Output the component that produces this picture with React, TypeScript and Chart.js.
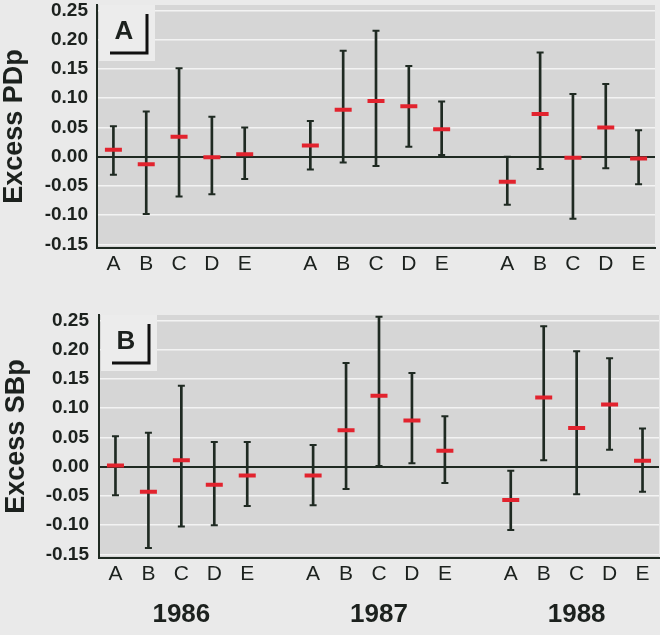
import React, { useEffect, useRef } from 'react';
import { Chart, registerables } from 'chart.js';

Chart.register(...registerables);

// ---- data ----
const years = ['1986', '1987', '1988'];
const sites = ['A', 'B', 'C', 'D', 'E'];

// Panel A: Excess PDp (15 values: 1986 A-E, 1987 A-E, 1988 A-E)
const pdpMean = [0.012, -0.013, 0.034, -0.001, 0.004, 0.019, 0.080, 0.095, 0.086, 0.047, -0.043, 0.073, -0.002, 0.050, -0.003];
const pdpUpper = [0.052, 0.077, 0.151, 0.068, 0.050, 0.061, 0.181, 0.215, 0.155, 0.094, 0.000, 0.178, 0.107, 0.124, 0.045];
const pdpLower = [-0.031, -0.098, -0.068, -0.064, -0.038, -0.022, -0.010, -0.016, 0.017, 0.003, -0.082, -0.021, -0.106, -0.020, -0.047];

// Panel B: Excess SBp
const sbpMean = [0.002, -0.043, 0.011, -0.031, -0.015, -0.015, 0.062, 0.121, 0.079, 0.027, -0.057, 0.118, 0.066, 0.106, 0.010];
const sbpUpper = [0.052, 0.058, 0.138, 0.042, 0.042, 0.037, 0.177, 0.256, 0.160, 0.086, -0.007, 0.240, 0.197, 0.185, 0.065];
const sbpLower = [-0.049, -0.139, -0.102, -0.100, -0.067, -0.066, -0.038, 0.001, 0.006, -0.028, -0.108, 0.011, -0.047, 0.029, -0.043];

const yMin = -0.156;
const yMax = 0.259;
const yStep = 0.05;

// ---- helpers: insert an empty slot between year groups ----
function slots<T>(vals: T[], gap: T): T[] {
  const out: T[] = [];
  years.forEach((_, g) => {
    if (g > 0) out.push(gap);
    sites.forEach((_, i) => out.push(vals[g * sites.length + i]));
  });
  return out;
}

const xLabels = slots(years.flatMap(() => sites), '');
const yearLabels = slots(
  years.flatMap((y) => sites.map((_, i) => (i === 2 ? y : ''))),
  ''
);

const FONT = '"Liberation Sans", Arial, sans-serif';
const INK = '#1c211e';
const BAR = '#1f2a22';
const PLOT_H = 243;

const decorPlugin = {
  id: 'panelDecor',
  beforeDraw(chart: any) {
    const { ctx, chartArea: a } = chart;
    ctx.save();
    ctx.fillStyle = '#d6d6d6';
    ctx.fillRect(a.left, a.top, a.right - a.left, a.bottom - a.top);
    ctx.restore();
  },
  beforeDatasetsDraw(chart: any, _args: any, opts: any) {
    const { ctx, chartArea: a } = chart;
    ctx.save();
    ctx.fillStyle = '#ececec';
    ctx.fillRect(a.left + 2, a.top, 56, 56);
    ctx.fillStyle = INK;
    ctx.font = `bold 26px ${FONT}`;
    ctx.textAlign = 'center';
    ctx.textBaseline = 'middle';
    ctx.fillText(opts.letter, a.left + 27, a.top + 27);
    ctx.strokeStyle = '#111';
    ctx.lineWidth = 3;
    ctx.beginPath();
    ctx.moveTo(a.left + 13, a.top + 48);
    ctx.lineTo(a.left + 50, a.top + 48);
    ctx.lineTo(a.left + 50, a.top + 9);
    ctx.stroke();
    ctx.restore();
  },
};

interface PanelProps {
  title: string;
  letter: string;
  mean: number[];
  upper: number[];
  lower: number[];
  withYears: boolean;
  height: number;
  padTop: number;
  padLeft: number;
  padRight: number;
  xHeight: number;
  tickPad: number;
  xPad: number;
}

function Panel(p: PanelProps) {
  const ref = useRef<HTMLCanvasElement>(null);
  useEffect(() => {
    const meanS = slots<number | null>(p.mean, null);
    const upS = slots<number | null>(p.upper, null);
    const loS = slots<number | null>(p.lower, null);
    const ranges = loS.map((l, i) => (l == null ? null : [l, upS[i] as number]));

    const noPadH = (s: any) => {
      s.paddingLeft = 0;
      s.paddingRight = 0;
    };

    const scales: any = {
      x: {
        type: 'category',
        labels: xLabels,
        offset: true,
        weight: 0,
        afterFit: (s: any) => {
          s.height = p.xHeight;
          noPadH(s);
        },
        grid: { display: false, drawTicks: false },
        border: { display: true, color: BAR, width: 2 },
        ticks: {
          autoSkip: false,
          maxRotation: 0,
          padding: p.xPad,
          color: INK,
          font: { family: FONT, size: 21 },
        },
      },
      y: {
        min: yMin,
        max: yMax,
        afterFit: (s: any) => {
          s.width = 97;
          s.paddingTop = 0;
          s.paddingBottom = 0;
        },
        grid: {
          drawTicks: false,
          color: (c: any) => (c.tick && Math.abs(c.tick.value) < 1e-9 ? BAR : '#f3f3f3'),
          lineWidth: (c: any) => (c.tick && Math.abs(c.tick.value) < 1e-9 ? 2 : 1.5),
        },
        border: { display: true, color: BAR, width: 2 },
        ticks: {
          stepSize: yStep,
          includeBounds: false,
          padding: p.tickPad,
          color: INK,
          font: { family: FONT, size: 19, weight: 'bold', lineHeight: 0.5 },
          callback: (v: any) => Number(v).toFixed(2),
        },
        title: {
          display: true,
          text: p.title,
          color: INK,
          padding: 0,
          font: { family: FONT, size: 27, weight: 'bold', lineHeight: 1.05 },
        },
      },
    };
    if (p.withYears) {
      scales.x2 = {
        type: 'category',
        labels: yearLabels,
        position: 'bottom',
        offset: true,
        weight: 1,
        afterFit: (s: any) => {
          s.height = p.height - p.padTop - PLOT_H - p.xHeight;
          noPadH(s);
        },
        grid: { display: false, drawTicks: false },
        border: { display: false },
        ticks: {
          autoSkip: false,
          maxRotation: 0,
          padding: 9,
          color: INK,
          font: { family: FONT, size: 26, weight: 'bold' },
        },
      };
    }

    const chart = new Chart(ref.current as HTMLCanvasElement, {
      type: 'bar',
      data: {
        labels: xLabels,
        datasets: [
          {
            type: 'line',
            data: meanS,
            showLine: false,
            pointStyle: 'line',
            pointRadius: 8.5,
            pointHoverRadius: 8.5,
            pointBorderWidth: 4,
            borderColor: '#e2232e',
            backgroundColor: '#e2232e',
            order: 0,
          } as any,
          {
            type: 'line',
            data: upS,
            showLine: false,
            pointStyle: 'line',
            pointRadius: 3.5,
            pointHoverRadius: 3.5,
            pointBorderWidth: 2,
            borderColor: BAR,
            order: 1,
          } as any,
          {
            type: 'line',
            data: loS,
            showLine: false,
            pointStyle: 'line',
            pointRadius: 3.5,
            pointHoverRadius: 3.5,
            pointBorderWidth: 2,
            borderColor: BAR,
            order: 1,
          } as any,
          {
            type: 'bar',
            data: ranges as any,
            barThickness: 2,
            backgroundColor: BAR,
            borderWidth: 0,
            order: 2,
          },
        ],
      },
      options: {
        responsive: false,
        animation: false,
        devicePixelRatio: 1,
        layout: {
          autoPadding: false,
          padding: { top: p.padTop, right: p.padRight, left: p.padLeft, bottom: 0 },
        },
        plugins: {
          legend: { display: false },
          tooltip: { enabled: false },
          panelDecor: { letter: p.letter },
        } as any,
        scales,
      },
      plugins: [decorPlugin],
    });
    return () => chart.destroy();
  }, []);
  return <canvas ref={ref} width={660} height={p.height} style={{ display: 'block' }} />;
}

export default function App() {
  return (
    <div
      style={{
        position: 'absolute',
        left: 0,
        top: 0,
        width: 660,
        height: 635,
        background: '#eaeaea',
        overflow: 'hidden',
      }}
    >
      <Panel
        title="Excess PDp"
        letter="A"
        mean={pdpMean}
        upper={pdpUpper}
        lower={pdpLower}
        withYears={false}
        height={290}
        padTop={5}
        padLeft={0}
        padRight={5}
        xHeight={42}
        tickPad={9}
        xPad={4}
      />
      <Panel
        title="Excess SBp"
        letter="B"
        mean={sbpMean}
        upper={sbpUpper}
        lower={sbpLower}
        withYears={true}
        height={345}
        padTop={25}
        padLeft={2}
        padRight={1}
        xHeight={32}
        tickPad={10}
        xPad={4}
      />
    </div>
  );
}
